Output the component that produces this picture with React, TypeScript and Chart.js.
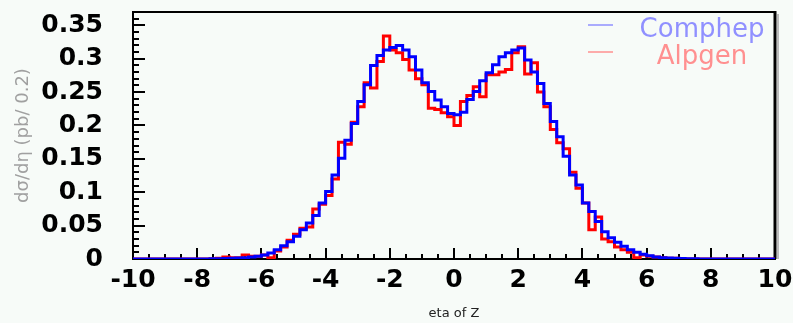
import React, { useEffect, useRef } from "react";
import { Chart, registerables } from "chart.js";

Chart.register(...registerables);

// Histogram binning (eta of Z): 100 bins of width 0.2 from -10 to 10
const BIN_MIN = -10;
const BIN_WIDTH = 0.2;

const SERIES_LABELS = ["Comphep", "Alpgen"];

// dσ/dη per bin
const COMPHEP = [
  0, 0, 0, 0, 0, 0, 0, 0, 0, 0,
  0, 0, 0.0003, 0.0005, 0.0007, 0.001, 0.0015, 0.002, 0.003, 0.004,
  0.006, 0.009, 0.014, 0.02, 0.026, 0.034, 0.044, 0.054, 0.065, 0.084,
  0.101, 0.126, 0.151, 0.178, 0.203, 0.236, 0.261, 0.29, 0.305, 0.313,
  0.317, 0.32, 0.313, 0.303, 0.283, 0.264, 0.251, 0.238, 0.228, 0.218,
  0.216, 0.22, 0.239, 0.251, 0.267, 0.279, 0.291, 0.303, 0.309, 0.313,
  0.316, 0.298, 0.28, 0.263, 0.233, 0.206, 0.183, 0.154, 0.126, 0.111,
  0.084, 0.071, 0.056, 0.041, 0.032, 0.025, 0.019, 0.014, 0.01, 0.007,
  0.005, 0.003, 0.002, 0.0015, 0.001, 0.0007, 0.0005, 0.0003, 0, 0,
  0, 0, 0, 0, 0, 0, 0, 0, 0, 0,
];

const ALPGEN = [
  0, 0, 0, 0, 0, 0, 0, 0, 0, 0,
  0, 0, 0.0005, 0.001, 0.003, 0.002, 0.002, 0.006, 0.004, 0.004,
  0.006, 0.002, 0.012, 0.018, 0.028, 0.037, 0.046, 0.048, 0.075, 0.082,
  0.095, 0.12, 0.175, 0.172, 0.205, 0.228, 0.264, 0.256, 0.296, 0.334,
  0.313, 0.309, 0.299, 0.283, 0.27, 0.261, 0.226, 0.224, 0.219, 0.213,
  0.2, 0.236, 0.245, 0.258, 0.243, 0.276, 0.276, 0.28, 0.284, 0.309,
  0.318, 0.277, 0.294, 0.25, 0.228, 0.194, 0.174, 0.165, 0.13, 0.106,
  0.084, 0.044, 0.063, 0.03, 0.026, 0.018, 0.014, 0.01, 0.002, 0.006,
  0.004, 0.003, 0.002, 0.001, 0.001, 0, 0, 0, 0, 0,
  0, 0, 0, 0, 0, 0, 0, 0, 0, 0,
];

const X_TICKS = [-10, -8, -6, -4, -2, 0, 2, 4, 6, 8, 10];
const Y_TICKS = [0, 0.05, 0.1, 0.15, 0.2, 0.25, 0.3, 0.35];
const X_MINOR_STEP = 0.5;
const Y_MINOR_STEP = 0.01;
const Y_MAX = 0.37;

const X_TITLE = "eta of Z";
const Y_TITLE = "dσ/dη (pb/ 0.2)";

function toSteps(vals: number[]) {
  const pts = vals.map((v, i) => ({ x: BIN_MIN + i * BIN_WIDTH, y: v }));
  pts.push({ x: BIN_MIN + vals.length * BIN_WIDTH, y: vals[vals.length - 1] });
  return pts;
}

const framePlugin = {
  id: "rootFrame",
  beforeDatasetsDraw(chart: any) {
    const { ctx, chartArea, scales } = chart;
    const { left, right, top, bottom } = chartArea;
    const x = scales.x;
    const y = scales.y;
    ctx.save();
    ctx.strokeStyle = "#000";
    ctx.lineWidth = 2;
    // x ticks inside
    const nx = Math.round((x.max - x.min) / X_MINOR_STEP);
    for (let k = 0; k <= nx; k++) {
      const v = x.min + k * X_MINOR_STEP;
      const px = Math.round(x.getPixelForValue(v));
      const major = X_TICKS.some((t) => Math.abs(t - v) < 1e-6);
      const len = major ? 11 : 5;
      ctx.beginPath();
      ctx.moveTo(px, bottom);
      ctx.lineTo(px, bottom - len);
      ctx.stroke();
    }
    // y ticks inside
    const ny = Math.floor(y.max / Y_MINOR_STEP + 1e-6);
    for (let k = 0; k <= ny; k++) {
      const v = k * Y_MINOR_STEP;
      const py = Math.round(y.getPixelForValue(v));
      const major = Y_TICKS.some((t) => Math.abs(t - v) < 1e-6);
      const len = major ? 12 : 6;
      ctx.beginPath();
      ctx.moveTo(left, py);
      ctx.lineTo(left + len, py);
      ctx.stroke();
    }
    // frame top and right
    ctx.beginPath();
    ctx.lineWidth = 2;
    ctx.moveTo(left, top);
    ctx.lineTo(right, top);
    ctx.stroke();
    ctx.strokeStyle = "#bbb";
    ctx.lineWidth = 2;
    ctx.beginPath();
    ctx.moveTo(right + 3, top + 2);
    ctx.lineTo(right + 3, bottom);
    ctx.stroke();
    ctx.strokeStyle = "#000";
    ctx.lineWidth = 3;
    ctx.beginPath();
    ctx.moveTo(right, top - 1);
    ctx.lineTo(right, bottom);
    ctx.stroke();
    ctx.restore();
  },
};

const legendPlugin = {
  id: "rootLegend",
  afterDraw(chart: any) {
    const { ctx, chartArea } = chart;
    const { right, top } = chartArea;
    ctx.save();
    chart.data.datasets.forEach((ds: any, i: number) => {
      const yLine = top + 13 + i * 27;
      ctx.strokeStyle = ds.legendColor;
      ctx.lineWidth = 1.5;
      ctx.beginPath();
      ctx.moveTo(right - 187, yLine);
      ctx.lineTo(right - 162, yLine);
      ctx.stroke();
      ctx.fillStyle = ds.legendColor;
      ctx.font = "26px 'DejaVu Sans'";
      ctx.textAlign = "center";
      ctx.textBaseline = "alphabetic";
      ctx.fillText(ds.label, right - 73, yLine + 12);
    });
    ctx.restore();
  },
};

export default function App() {
  const canvasRef = useRef<HTMLCanvasElement | null>(null);

  useEffect(() => {
    const canvas = canvasRef.current;
    if (!canvas) return;
    const tickFont = { family: "'DejaVu Sans'", size: 25, weight: "bold" as const };
    const chart = new Chart(canvas, {
      type: "line",
      data: {
        datasets: [
          {
            label: SERIES_LABELS[0],
            data: toSteps(COMPHEP),
            borderColor: "#0000ff",
            borderWidth: 3,
            pointRadius: 0,
            stepped: true,
            fill: false,
            legendColor: "#9090ff",
          } as any,
          {
            label: SERIES_LABELS[1],
            data: toSteps(ALPGEN),
            borderColor: "#ff0000",
            borderWidth: 3,
            pointRadius: 0,
            stepped: true,
            fill: false,
            legendColor: "#ff9090",
          } as any,
        ],
      },
      options: {
        responsive: false,
        animation: false,
        devicePixelRatio: 1,
        layout: { padding: { left: 0, top: 12, right: 18, bottom: 0 } },
        plugins: {
          legend: { display: false },
          tooltip: { enabled: false },
        },
        scales: {
          x: {
            type: "linear",
            min: BIN_MIN,
            max: BIN_MIN + COMPHEP.length * BIN_WIDTH,
            afterBuildTicks: (s: any) => {
              s.ticks = X_TICKS.map((v) => ({ value: v }));
            },
            afterFit: (s: any) => {
              s.height = 64;
              s.paddingLeft = 0;
              s.paddingRight = 0;
              s.paddingTop = 0;
              s.paddingBottom = 0;
            },
            grid: { display: false, drawTicks: false },
            border: { display: true, color: "#000", width: 2 },
            ticks: {
              font: tickFont,
              color: "#000",
              padding: 6,
              maxRotation: 0,
              autoSkip: false,
              callback: (v: any) => String(v),
            },
            title: {
              display: true,
              text: X_TITLE,
              font: { family: "'DejaVu Sans'", size: 13 },
              color: "#222",
              padding: { top: 0, bottom: 2 },
            },
          },
          y: {
            type: "linear",
            min: 0,
            max: Y_MAX,
            afterBuildTicks: (s: any) => {
              s.ticks = Y_TICKS.map((v) => ({ value: v }));
            },
            afterFit: (s: any) => {
              s.width = 133;
              s.paddingTop = 0;
              s.paddingBottom = 0;
              s.paddingLeft = 0;
              s.paddingRight = 0;
            },
            grid: { display: false, drawTicks: false },
            border: { display: true, color: "#000", width: 2 },
            ticks: {
              font: tickFont,
              color: "#000",
              padding: 30,
              autoSkip: false,
              callback: (v: any) => String(v),
            },
            title: {
              display: true,
              text: Y_TITLE,
              font: { family: "'DejaVu Sans'", size: 18 },
              color: "#a0a0a0",
              padding: { top: 13, bottom: 0 },
            },
          },
        },
      } as any,
      plugins: [framePlugin, legendPlugin],
    });
    return () => chart.destroy();
  }, []);

  return (
    <div
      style={{
        position: "absolute",
        left: 0,
        top: 0,
        width: 793,
        height: 323,
        background: "#f7fbf8",
      }}
    >
      <canvas ref={canvasRef} width={793} height={323} />
    </div>
  );
}
